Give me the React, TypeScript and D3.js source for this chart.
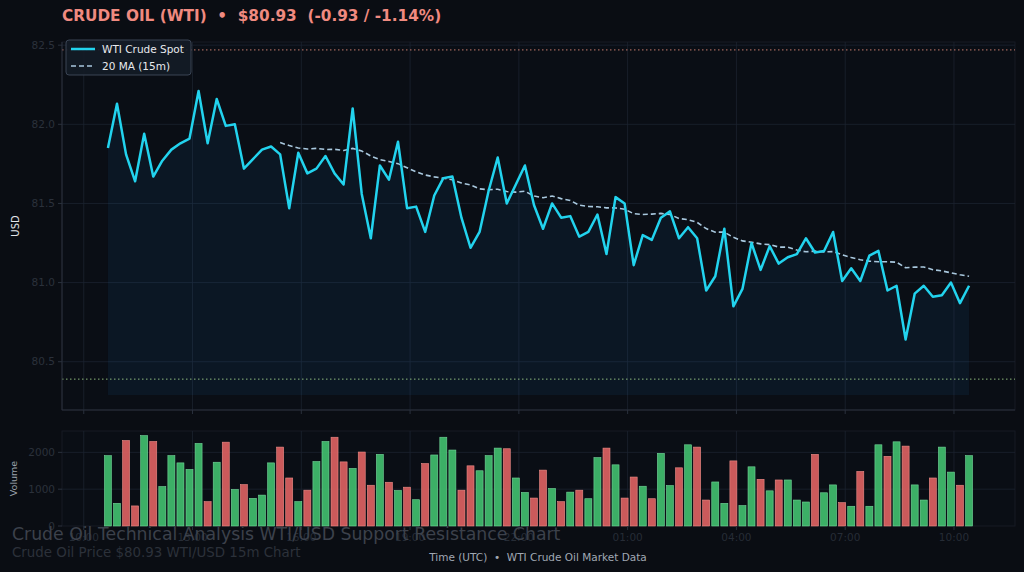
import * as d3 from 'd3'

// 15m WTI spot prices, first bar 10:40 UTC
const START = Date.UTC(2024, 4, 14, 10, 40)
const STEP_MIN = 15

const prices = [
  81.85, 82.13, 81.81, 81.64, 81.94, 81.67, 81.77, 81.84, 81.88, 81.91,
  82.21, 81.88, 82.16, 81.99, 82.0, 81.72, 81.78, 81.84, 81.86, 81.81,
  81.47, 81.82, 81.69, 81.72, 81.8, 81.69, 81.62, 82.1, 81.56, 81.28,
  81.74, 81.65, 81.89, 81.47, 81.48, 81.32, 81.55, 81.66, 81.67, 81.41,
  81.22, 81.32, 81.58, 81.79, 81.5, 81.62, 81.74, 81.49, 81.34, 81.5,
  81.41, 81.42, 81.29, 81.32, 81.43, 81.18, 81.54, 81.5, 81.11, 81.3,
  81.27, 81.41, 81.45, 81.28, 81.35, 81.28, 80.95, 81.04, 81.34, 80.85,
  80.96, 81.25, 81.08, 81.23, 81.12, 81.16, 81.18, 81.28, 81.19, 81.2,
  81.32, 81.01, 81.09, 81.01, 81.17, 81.2, 80.95, 80.98, 80.64, 80.93,
  80.98, 80.91, 80.92, 81.0, 80.87, 80.98,
]

const volumes = [
  1910, 616, 2321, 545, 2455, 2295, 1071, 1911, 1714, 1536,
  2241, 661, 1732, 2277, 991, 1125, 750, 839, 1714, 2143,
  1304, 661, 973, 1750, 2295, 2411, 1741, 1563, 2009, 1107,
  1946, 1188, 964, 1054, 714, 1696, 1929, 2411, 2063, 973,
  1634, 1500, 1911, 2116, 2098, 1304, 911, 759, 1518, 1018,
  661, 920, 973, 741, 1857, 2116, 1661, 759, 1330, 1080,
  741, 1973, 1098, 1580, 2205, 2143, 705, 1196, 616, 1768,
  554, 1607, 1268, 955, 1250, 1250, 705, 652, 1946, 902,
  1116, 634, 536, 1482, 536, 2205, 1893, 2286, 2170, 1116,
  705, 1304, 2143, 1464, 1107, 1911,
]

const MA_WINDOW = 20
const RESISTANCE = 82.47
const SUPPORT = 80.39
const FILL_BASE = 80.29

const priceTicks = [80.5, 81.0, 81.5, 82.0, 82.5]
const volumeTicks = [0, 1000, 2000]

const TITLE = 'CRUDE OIL (WTI)  •  $80.93  (-0.93 / -1.14%)'
const CAPTION = 'Crude Oil Technical Analysis WTI/USD Support Resistance Chart'
const SUBCAPTION = 'Crude Oil Price $80.93 WTI/USD 15m Chart'
const XLABEL = 'Time (UTC)  •  WTI Crude Oil Market Data'

const W = 1024
const H = 572
const FONT = 'DejaVu Sans, Verdana, sans-serif'

const CYAN = '#22d3ee'
const MA_COLOR = '#a9c8de'
const GRID = '#1c2330'
const UP = '#3fb86a'
const DOWN = '#d65f5f'

export default function App() {
  const left = 62
  const right = 1015
  const top = 42
  const bottom = 410
  const vTop = 431
  const vBottom = 526

  const times = prices.map((_, i) => new Date(START + i * STEP_MIN * 60000))
  const pad = 76 * 60000
  const x = d3
    .scaleUtc()
    .domain([+times[0] - pad, +times[times.length - 1] + pad])
    .range([left, right])

  const y = d3.scaleLinear().domain([80.195, 82.52]).range([bottom, top])
  const yv = d3.scaleLinear().domain([0, 2580]).range([vBottom, vTop])

  // 3-hour ticks aligned to 10:00 UTC
  const hourTicks = d3
    .utcHour.range(x.domain()[0], x.domain()[1])
    .filter(d => (d.getUTCHours() - 10 + 24) % 3 === 0)
  const fmt = d3.utcFormat('%H:%M')

  // rolling 20-bar mean of the spot price
  const ma = prices
    .map((_, i) => (i < MA_WINDOW - 1 ? null : d3.mean(prices.slice(i - MA_WINDOW + 1, i + 1))!))

  const line = d3
    .line<number>()
    .x((_, i) => x(times[i]))
    .y(d => y(d))
  const area = d3
    .area<number>()
    .x((_, i) => x(times[i]))
    .y0(y(FILL_BASE))
    .y1(d => y(d))
  const maLine = d3
    .line<number | null>()
    .defined(d => d !== null)
    .x((_, i) => x(times[i]))
    .y(d => y(d as number))

  const barW = 7
  const pre = { whiteSpace: 'pre' as const }

  return (
    <div style={{ position: 'absolute', left: 0, top: 0, width: W, height: H }}>
      <svg width={W} height={H} style={{ display: 'block', fontFamily: FONT }}>
        <rect width={W} height={H} fill="#0a0d13" />

        {/* price panel */}
        <rect x={left} y={top} width={right - left} height={bottom - top} fill="#0a0e15" stroke="#161b24" />
        {priceTicks.map(t => (
          <line key={'gy' + t} x1={left} x2={right} y1={y(t)} y2={y(t)} stroke={GRID} strokeWidth={0.8} />
        ))}
        {hourTicks.map(t => (
          <line key={'gx' + +t} x1={x(t)} x2={x(t)} y1={top} y2={bottom} stroke={GRID} strokeWidth={0.8} />
        ))}
        <path d={area(prices)!} fill="#1e6fb0" fillOpacity={0.1} />
        <line x1={left} x2={right} y1={y(RESISTANCE)} y2={y(RESISTANCE)} stroke="#e8907f" strokeWidth={1} strokeDasharray="1.5,2.5" opacity={0.85} />
        <line x1={left} x2={right} y1={y(SUPPORT)} y2={y(SUPPORT)} stroke="#a6d68e" strokeWidth={1} strokeDasharray="1.5,2.5" opacity={0.85} />
        <path d={maLine(ma)!} fill="none" stroke={MA_COLOR} strokeWidth={1.6} strokeDasharray="5,3" />
        <path d={line(prices)!} fill="none" stroke={CYAN} strokeWidth={2.5} strokeLinejoin="round" />
        <line x1={left} x2={left} y1={top} y2={bottom} stroke="#2a313d" />
        <line x1={left} x2={right} y1={bottom} y2={bottom} stroke="#2a313d" />
        {priceTicks.map(t => (
          <g key={'ty' + t} transform={`translate(${left},${y(t)})`}>
            <line x1={-4} x2={0} stroke="#2a313d" />
            <text x={-7} dy="0.35em" textAnchor="end" fontSize={10.5} fill="#2b313b">
              {t.toFixed(1)}
            </text>
          </g>
        ))}
        {hourTicks.map(t => (
          <line key={'tx' + +t} x1={x(t)} x2={x(t)} y1={bottom} y2={bottom + 4} stroke="#2a313d" />
        ))}
        <text transform={`translate(19,${(top + bottom) / 2}) rotate(-90)`} textAnchor="middle" fontSize={10} fill="#e4e6ea">
          USD
        </text>

        {/* legend */}
        <g transform="translate(66,40)">
          <rect width={125} height={35} rx={3} fill="#141b26" fillOpacity={0.92} stroke="#3a4454" />
          <line x1={5} x2={29} y1={9} y2={9} stroke={CYAN} strokeWidth={2.5} />
          <text x={36} y={9} dy="0.35em" fontSize={10.5} fill="#e8eaee">WTI Crude Spot</text>
          <line x1={5} x2={29} y1={26} y2={26} stroke={MA_COLOR} strokeWidth={1.6} strokeDasharray="5,3" />
          <text x={36} y={26} dy="0.35em" fontSize={10.5} fill="#e8eaee">20 MA (15m)</text>
        </g>

        {/* volume panel */}
        <rect x={left} y={vTop} width={right - left} height={vBottom - vTop} fill="#0a0e15" stroke="#161b24" />
        {volumeTicks.slice(1).map(t => (
          <line key={'gv' + t} x1={left} x2={right} y1={yv(t)} y2={yv(t)} stroke={GRID} strokeWidth={0.8} />
        ))}
        {hourTicks.map(t => (
          <line key={'gvx' + +t} x1={x(t)} x2={x(t)} y1={vTop} y2={vBottom} stroke={GRID} strokeWidth={0.8} />
        ))}
        {volumes.map((v, i) => {
          const up = i === 0 || prices[i] >= prices[i - 1]
          return (
            <rect
              key={'v' + i}
              x={x(times[i]) - barW / 2}
              y={yv(v)}
              width={barW}
              height={yv(0) - yv(v)}
              fill={up ? UP : DOWN}
              stroke={up ? '#74d69a' : '#ee8d88'}
              strokeWidth={0.6}
              fillOpacity={0.95}
            />
          )
        })}
        {volumeTicks.map(t => (
          <g key={'tv' + t} transform={`translate(${left},${yv(t)})`}>
            <line x1={-4} x2={0} stroke="#2a313d" />
            <text x={-7} dy="0.35em" textAnchor="end" fontSize={10.5} fill="#2b313b">
              {t}
            </text>
          </g>
        ))}
        {hourTicks.map(t => (
          <g key={'lx' + +t} transform={`translate(${x(t)},${vBottom})`}>
            <line y2={4} stroke="#2a313d" />
            <text y={15} textAnchor="middle" fontSize={10.5} fill="#262c36">
              {fmt(t)}
            </text>
          </g>
        ))}
        <text transform={`translate(17,${(vTop + vBottom) / 2}) rotate(-90)`} textAnchor="middle" fontSize={9.5} fill="#9aa1ab">
          Volume
        </text>

        {/* titles */}
        <text x={left} y={21} fontSize={15.3} fontWeight="bold" fill="#f08a80" style={pre}>
          {TITLE}
        </text>
        <text x={538} y={561} textAnchor="middle" fontSize={10.5} fill="#a0a8b3" style={pre}>
          {XLABEL}
        </text>
        <text x={12} y={540} fontSize={17.3} fill="#3c414b">
          {CAPTION}
        </text>
        <text x={12} y={557} fontSize={13.4} fill="#2c313a">
          {SUBCAPTION}
        </text>
      </svg>
    </div>
  )
}
